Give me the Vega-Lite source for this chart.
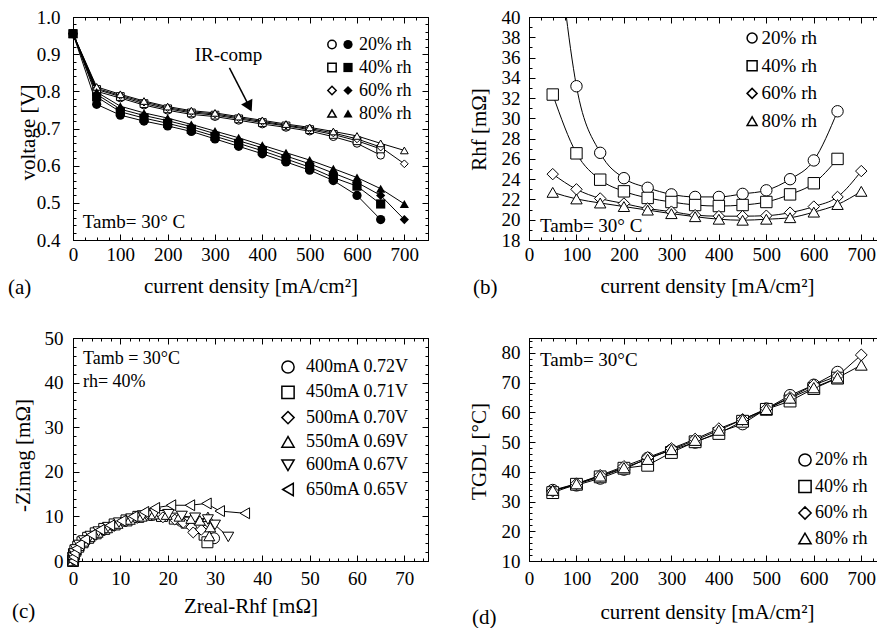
{
"$schema":"https://vega.github.io/schema/vega-lite/v6.json",
"autosize":{"type":"none"},
"padding":{"left":73,"top":17,"right":804,"bottom":611},
"background":"white",
"datasets":{
"a":[
{"c":0,"v":0.955,"rh":"20% rh","k":"IR"},{"c":50,"v":0.800,"rh":"20% rh","k":"IR"},{"c":100,"v":0.782,"rh":"20% rh","k":"IR"},{"c":150,"v":0.763,"rh":"20% rh","k":"IR"},{"c":200,"v":0.749,"rh":"20% rh","k":"IR"},{"c":250,"v":0.738,"rh":"20% rh","k":"IR"},{"c":300,"v":0.732,"rh":"20% rh","k":"IR"},{"c":350,"v":0.722,"rh":"20% rh","k":"IR"},{"c":400,"v":0.712,"rh":"20% rh","k":"IR"},{"c":450,"v":0.703,"rh":"20% rh","k":"IR"},{"c":500,"v":0.693,"rh":"20% rh","k":"IR"},{"c":550,"v":0.678,"rh":"20% rh","k":"IR"},{"c":600,"v":0.660,"rh":"20% rh","k":"IR"},{"c":650,"v":0.628,"rh":"20% rh","k":"IR"},
{"c":0,"v":0.955,"rh":"40% rh","k":"IR"},{"c":50,"v":0.805,"rh":"40% rh","k":"IR"},{"c":100,"v":0.786,"rh":"40% rh","k":"IR"},{"c":150,"v":0.767,"rh":"40% rh","k":"IR"},{"c":200,"v":0.753,"rh":"40% rh","k":"IR"},{"c":250,"v":0.742,"rh":"40% rh","k":"IR"},{"c":300,"v":0.736,"rh":"40% rh","k":"IR"},{"c":350,"v":0.726,"rh":"40% rh","k":"IR"},{"c":400,"v":0.716,"rh":"40% rh","k":"IR"},{"c":450,"v":0.707,"rh":"40% rh","k":"IR"},{"c":500,"v":0.697,"rh":"40% rh","k":"IR"},{"c":550,"v":0.684,"rh":"40% rh","k":"IR"},{"c":600,"v":0.667,"rh":"40% rh","k":"IR"},{"c":650,"v":0.645,"rh":"40% rh","k":"IR"},
{"c":0,"v":0.955,"rh":"60% rh","k":"IR"},{"c":50,"v":0.808,"rh":"60% rh","k":"IR"},{"c":100,"v":0.789,"rh":"60% rh","k":"IR"},{"c":150,"v":0.771,"rh":"60% rh","k":"IR"},{"c":200,"v":0.756,"rh":"60% rh","k":"IR"},{"c":250,"v":0.745,"rh":"60% rh","k":"IR"},{"c":300,"v":0.739,"rh":"60% rh","k":"IR"},{"c":350,"v":0.729,"rh":"60% rh","k":"IR"},{"c":400,"v":0.719,"rh":"60% rh","k":"IR"},{"c":450,"v":0.709,"rh":"60% rh","k":"IR"},{"c":500,"v":0.700,"rh":"60% rh","k":"IR"},{"c":550,"v":0.688,"rh":"60% rh","k":"IR"},{"c":600,"v":0.672,"rh":"60% rh","k":"IR"},{"c":650,"v":0.650,"rh":"60% rh","k":"IR"},{"c":700,"v":0.605,"rh":"60% rh","k":"IR"},
{"c":0,"v":0.955,"rh":"80% rh","k":"IR"},{"c":50,"v":0.812,"rh":"80% rh","k":"IR"},{"c":100,"v":0.792,"rh":"80% rh","k":"IR"},{"c":150,"v":0.774,"rh":"80% rh","k":"IR"},{"c":200,"v":0.759,"rh":"80% rh","k":"IR"},{"c":250,"v":0.748,"rh":"80% rh","k":"IR"},{"c":300,"v":0.742,"rh":"80% rh","k":"IR"},{"c":350,"v":0.732,"rh":"80% rh","k":"IR"},{"c":400,"v":0.722,"rh":"80% rh","k":"IR"},{"c":450,"v":0.712,"rh":"80% rh","k":"IR"},{"c":500,"v":0.703,"rh":"80% rh","k":"IR"},{"c":550,"v":0.692,"rh":"80% rh","k":"IR"},{"c":600,"v":0.680,"rh":"80% rh","k":"IR"},{"c":650,"v":0.660,"rh":"80% rh","k":"IR"},{"c":700,"v":0.641,"rh":"80% rh","k":"IR"},
{"c":0,"v":0.955,"rh":"20% rh","k":"raw"},{"c":50,"v":0.765,"rh":"20% rh","k":"raw"},{"c":100,"v":0.736,"rh":"20% rh","k":"raw"},{"c":150,"v":0.720,"rh":"20% rh","k":"raw"},{"c":200,"v":0.707,"rh":"20% rh","k":"raw"},{"c":250,"v":0.692,"rh":"20% rh","k":"raw"},{"c":300,"v":0.672,"rh":"20% rh","k":"raw"},{"c":350,"v":0.652,"rh":"20% rh","k":"raw"},{"c":400,"v":0.632,"rh":"20% rh","k":"raw"},{"c":450,"v":0.610,"rh":"20% rh","k":"raw"},{"c":500,"v":0.588,"rh":"20% rh","k":"raw"},{"c":550,"v":0.560,"rh":"20% rh","k":"raw"},{"c":600,"v":0.520,"rh":"20% rh","k":"raw"},{"c":650,"v":0.455,"rh":"20% rh","k":"raw"},
{"c":0,"v":0.955,"rh":"40% rh","k":"raw"},{"c":50,"v":0.785,"rh":"40% rh","k":"raw"},{"c":100,"v":0.745,"rh":"40% rh","k":"raw"},{"c":150,"v":0.728,"rh":"40% rh","k":"raw"},{"c":200,"v":0.714,"rh":"40% rh","k":"raw"},{"c":250,"v":0.698,"rh":"40% rh","k":"raw"},{"c":300,"v":0.679,"rh":"40% rh","k":"raw"},{"c":350,"v":0.660,"rh":"40% rh","k":"raw"},{"c":400,"v":0.640,"rh":"40% rh","k":"raw"},{"c":450,"v":0.618,"rh":"40% rh","k":"raw"},{"c":500,"v":0.596,"rh":"40% rh","k":"raw"},{"c":550,"v":0.568,"rh":"40% rh","k":"raw"},{"c":600,"v":0.545,"rh":"40% rh","k":"raw"},{"c":650,"v":0.497,"rh":"40% rh","k":"raw"},
{"c":0,"v":0.955,"rh":"60% rh","k":"raw"},{"c":50,"v":0.792,"rh":"60% rh","k":"raw"},{"c":100,"v":0.752,"rh":"60% rh","k":"raw"},{"c":150,"v":0.735,"rh":"60% rh","k":"raw"},{"c":200,"v":0.721,"rh":"60% rh","k":"raw"},{"c":250,"v":0.705,"rh":"60% rh","k":"raw"},{"c":300,"v":0.686,"rh":"60% rh","k":"raw"},{"c":350,"v":0.667,"rh":"60% rh","k":"raw"},{"c":400,"v":0.648,"rh":"60% rh","k":"raw"},{"c":450,"v":0.626,"rh":"60% rh","k":"raw"},{"c":500,"v":0.605,"rh":"60% rh","k":"raw"},{"c":550,"v":0.580,"rh":"60% rh","k":"raw"},{"c":600,"v":0.555,"rh":"60% rh","k":"raw"},{"c":650,"v":0.520,"rh":"60% rh","k":"raw"},{"c":700,"v":0.455,"rh":"60% rh","k":"raw"},
{"c":0,"v":0.955,"rh":"80% rh","k":"raw"},{"c":50,"v":0.798,"rh":"80% rh","k":"raw"},{"c":100,"v":0.760,"rh":"80% rh","k":"raw"},{"c":150,"v":0.742,"rh":"80% rh","k":"raw"},{"c":200,"v":0.728,"rh":"80% rh","k":"raw"},{"c":250,"v":0.711,"rh":"80% rh","k":"raw"},{"c":300,"v":0.693,"rh":"80% rh","k":"raw"},{"c":350,"v":0.675,"rh":"80% rh","k":"raw"},{"c":400,"v":0.655,"rh":"80% rh","k":"raw"},{"c":450,"v":0.635,"rh":"80% rh","k":"raw"},{"c":500,"v":0.615,"rh":"80% rh","k":"raw"},{"c":550,"v":0.592,"rh":"80% rh","k":"raw"},{"c":600,"v":0.568,"rh":"80% rh","k":"raw"},{"c":650,"v":0.538,"rh":"80% rh","k":"raw"},{"c":700,"v":0.497,"rh":"80% rh","k":"raw"}
],
"b":[
{"c":50,"r":52,"rh":"20% rh"},{"c":100,"r":33.17,"rh":"20% rh"},{"c":150,"r":26.6,"rh":"20% rh"},{"c":200,"r":24.1,"rh":"20% rh"},{"c":250,"r":23.15,"rh":"20% rh"},{"c":300,"r":22.5,"rh":"20% rh"},{"c":350,"r":22.25,"rh":"20% rh"},{"c":400,"r":22.25,"rh":"20% rh"},{"c":450,"r":22.55,"rh":"20% rh"},{"c":500,"r":22.9,"rh":"20% rh"},{"c":550,"r":24.0,"rh":"20% rh"},{"c":600,"r":25.85,"rh":"20% rh"},{"c":650,"r":30.7,"rh":"20% rh"},
{"c":50,"r":32.35,"rh":"40% rh"},{"c":100,"r":26.55,"rh":"40% rh"},{"c":150,"r":23.95,"rh":"40% rh"},{"c":200,"r":22.8,"rh":"40% rh"},{"c":250,"r":22.15,"rh":"40% rh"},{"c":300,"r":21.75,"rh":"40% rh"},{"c":350,"r":21.45,"rh":"40% rh"},{"c":400,"r":21.35,"rh":"40% rh"},{"c":450,"r":21.45,"rh":"40% rh"},{"c":500,"r":21.75,"rh":"40% rh"},{"c":550,"r":22.5,"rh":"40% rh"},{"c":600,"r":23.6,"rh":"40% rh"},{"c":650,"r":26.0,"rh":"40% rh"},
{"c":50,"r":24.5,"rh":"60% rh"},{"c":100,"r":23.0,"rh":"60% rh"},{"c":150,"r":22.1,"rh":"60% rh"},{"c":200,"r":21.6,"rh":"60% rh"},{"c":250,"r":21.1,"rh":"60% rh"},{"c":300,"r":20.8,"rh":"60% rh"},{"c":350,"r":20.45,"rh":"60% rh"},{"c":400,"r":20.35,"rh":"60% rh"},{"c":450,"r":20.35,"rh":"60% rh"},{"c":500,"r":20.4,"rh":"60% rh"},{"c":550,"r":20.7,"rh":"60% rh"},{"c":600,"r":21.3,"rh":"60% rh"},{"c":650,"r":22.25,"rh":"60% rh"},{"c":700,"r":24.8,"rh":"60% rh"},
{"c":50,"r":22.7,"rh":"80% rh"},{"c":100,"r":22.05,"rh":"80% rh"},{"c":150,"r":21.65,"rh":"80% rh"},{"c":200,"r":21.3,"rh":"80% rh"},{"c":250,"r":20.95,"rh":"80% rh"},{"c":300,"r":20.6,"rh":"80% rh"},{"c":350,"r":20.3,"rh":"80% rh"},{"c":400,"r":20.05,"rh":"80% rh"},{"c":450,"r":19.95,"rh":"80% rh"},{"c":500,"r":20.05,"rh":"80% rh"},{"c":550,"r":20.2,"rh":"80% rh"},{"c":600,"r":20.75,"rh":"80% rh"},{"c":650,"r":21.5,"rh":"80% rh"},{"c":700,"r":22.8,"rh":"80% rh"}
],
"c":[
{"i":0,"zr":0,"zi":0,"s":"400mA 0.72V"},{"i":1,"zr":0.05,"zi":0.6,"s":"400mA 0.72V"},{"i":2,"zr":0.2,"zi":1.3,"s":"400mA 0.72V"},{"i":3,"zr":0.5,"zi":2.1,"s":"400mA 0.72V"},{"i":4,"zr":1.0,"zi":3.0,"s":"400mA 0.72V"},{"i":5,"zr":1.9,"zi":4.0,"s":"400mA 0.72V"},{"i":6,"zr":3.0,"zi":5.0,"s":"400mA 0.72V"},{"i":7,"zr":4.6,"zi":6.0,"s":"400mA 0.72V"},{"i":8,"zr":6.4,"zi":7.0,"s":"400mA 0.72V"},{"i":9,"zr":8.5,"zi":8.0,"s":"400mA 0.72V"},{"i":10,"zr":11,"zi":9.0,"s":"400mA 0.72V"},{"i":11,"zr":13.5,"zi":9.8,"s":"400mA 0.72V"},{"i":12,"zr":16.5,"zi":10.3,"s":"400mA 0.72V"},{"i":13,"zr":19.3,"zi":10.3,"s":"400mA 0.72V"},{"i":14,"zr":22.8,"zi":9.0,"s":"400mA 0.72V"},{"i":15,"zr":25.5,"zi":7.8,"s":"400mA 0.72V"},{"i":16,"zr":27.6,"zi":6.8,"s":"400mA 0.72V"},{"i":17,"zr":29.8,"zi":5.1,"s":"400mA 0.72V"},
{"i":0,"zr":0,"zi":0,"s":"450mA 0.71V"},{"i":1,"zr":0.05,"zi":0.7,"s":"450mA 0.71V"},{"i":2,"zr":0.2,"zi":1.5,"s":"450mA 0.71V"},{"i":3,"zr":0.5,"zi":2.3,"s":"450mA 0.71V"},{"i":4,"zr":1.1,"zi":3.2,"s":"450mA 0.71V"},{"i":5,"zr":2.0,"zi":4.2,"s":"450mA 0.71V"},{"i":6,"zr":3.2,"zi":5.2,"s":"450mA 0.71V"},{"i":7,"zr":4.8,"zi":6.2,"s":"450mA 0.71V"},{"i":8,"zr":6.6,"zi":7.2,"s":"450mA 0.71V"},{"i":9,"zr":8.8,"zi":8.2,"s":"450mA 0.71V"},{"i":10,"zr":11.3,"zi":9.1,"s":"450mA 0.71V"},{"i":11,"zr":13.8,"zi":9.9,"s":"450mA 0.71V"},{"i":12,"zr":16.2,"zi":10.4,"s":"450mA 0.71V"},{"i":13,"zr":18.8,"zi":10.1,"s":"450mA 0.71V"},{"i":14,"zr":21.5,"zi":9.5,"s":"450mA 0.71V"},{"i":15,"zr":24,"zi":8.6,"s":"450mA 0.71V"},{"i":16,"zr":26.2,"zi":7.4,"s":"450mA 0.71V"},{"i":17,"zr":27.8,"zi":5.9,"s":"450mA 0.71V"},{"i":18,"zr":28.4,"zi":4.2,"s":"450mA 0.71V"},
{"i":0,"zr":0,"zi":0,"s":"500mA 0.70V"},{"i":1,"zr":0.05,"zi":0.5,"s":"500mA 0.70V"},{"i":2,"zr":0.2,"zi":1.2,"s":"500mA 0.70V"},{"i":3,"zr":0.5,"zi":2.0,"s":"500mA 0.70V"},{"i":4,"zr":1.0,"zi":2.9,"s":"500mA 0.70V"},{"i":5,"zr":1.9,"zi":3.9,"s":"500mA 0.70V"},{"i":6,"zr":3.1,"zi":4.9,"s":"500mA 0.70V"},{"i":7,"zr":4.7,"zi":5.9,"s":"500mA 0.70V"},{"i":8,"zr":6.5,"zi":6.9,"s":"500mA 0.70V"},{"i":9,"zr":8.7,"zi":7.9,"s":"500mA 0.70V"},{"i":10,"zr":11.2,"zi":8.9,"s":"500mA 0.70V"},{"i":11,"zr":13.7,"zi":9.7,"s":"500mA 0.70V"},{"i":12,"zr":16.3,"zi":10.2,"s":"500mA 0.70V"},{"i":13,"zr":19,"zi":9.8,"s":"500mA 0.70V"},{"i":14,"zr":21.5,"zi":9.3,"s":"500mA 0.70V"},{"i":15,"zr":23.3,"zi":8.6,"s":"500mA 0.70V"},{"i":16,"zr":25,"zi":7.6,"s":"500mA 0.70V"},{"i":17,"zr":25.4,"zi":6.4,"s":"500mA 0.70V"},{"i":18,"zr":27.1,"zi":7.0,"s":"500mA 0.70V"},
{"i":0,"zr":0,"zi":0,"s":"550mA 0.69V"},{"i":1,"zr":0.05,"zi":0.8,"s":"550mA 0.69V"},{"i":2,"zr":0.25,"zi":1.6,"s":"550mA 0.69V"},{"i":3,"zr":0.6,"zi":2.5,"s":"550mA 0.69V"},{"i":4,"zr":1.2,"zi":3.4,"s":"550mA 0.69V"},{"i":5,"zr":2.2,"zi":4.4,"s":"550mA 0.69V"},{"i":6,"zr":3.5,"zi":5.4,"s":"550mA 0.69V"},{"i":7,"zr":5.2,"zi":6.4,"s":"550mA 0.69V"},{"i":8,"zr":7.2,"zi":7.4,"s":"550mA 0.69V"},{"i":9,"zr":9.4,"zi":8.4,"s":"550mA 0.69V"},{"i":10,"zr":12,"zi":9.3,"s":"550mA 0.69V"},{"i":11,"zr":14.5,"zi":10.0,"s":"550mA 0.69V"},{"i":12,"zr":17,"zi":10.5,"s":"550mA 0.69V"},{"i":13,"zr":19.8,"zi":10.4,"s":"550mA 0.69V"},{"i":14,"zr":22.5,"zi":10.0,"s":"550mA 0.69V"},{"i":15,"zr":25,"zi":9.5,"s":"550mA 0.69V"},{"i":16,"zr":26.8,"zi":9.1,"s":"550mA 0.69V"},{"i":17,"zr":28.5,"zi":9.9,"s":"550mA 0.69V"},{"i":18,"zr":29,"zi":7.6,"s":"550mA 0.69V"},{"i":19,"zr":28.8,"zi":5.6,"s":"550mA 0.69V"},
{"i":0,"zr":0,"zi":0,"s":"600mA 0.67V"},{"i":1,"zr":0.05,"zi":0.8,"s":"600mA 0.67V"},{"i":2,"zr":0.25,"zi":1.7,"s":"600mA 0.67V"},{"i":3,"zr":0.6,"zi":2.6,"s":"600mA 0.67V"},{"i":4,"zr":1.3,"zi":3.6,"s":"600mA 0.67V"},{"i":5,"zr":2.3,"zi":4.6,"s":"600mA 0.67V"},{"i":6,"zr":3.7,"zi":5.6,"s":"600mA 0.67V"},{"i":7,"zr":5.4,"zi":6.6,"s":"600mA 0.67V"},{"i":8,"zr":7.4,"zi":7.6,"s":"600mA 0.67V"},{"i":9,"zr":9.7,"zi":8.6,"s":"600mA 0.67V"},{"i":10,"zr":12.3,"zi":9.5,"s":"600mA 0.67V"},{"i":11,"zr":14.8,"zi":10.2,"s":"600mA 0.67V"},{"i":12,"zr":17.3,"zi":10.7,"s":"600mA 0.67V"},{"i":13,"zr":20.2,"zi":10.5,"s":"600mA 0.67V"},{"i":14,"zr":23,"zi":10.1,"s":"600mA 0.67V"},{"i":15,"zr":25.8,"zi":9.7,"s":"600mA 0.67V"},{"i":16,"zr":28.5,"zi":9.3,"s":"600mA 0.67V"},{"i":17,"zr":30,"zi":8.1,"s":"600mA 0.67V"},{"i":18,"zr":32.8,"zi":5.4,"s":"600mA 0.67V"},
{"i":0,"zr":0,"zi":0,"s":"650mA 0.65V"},{"i":1,"zr":0.05,"zi":0.9,"s":"650mA 0.65V"},{"i":2,"zr":0.3,"zi":1.8,"s":"650mA 0.65V"},{"i":3,"zr":0.7,"zi":2.8,"s":"650mA 0.65V"},{"i":4,"zr":1.4,"zi":3.8,"s":"650mA 0.65V"},{"i":5,"zr":2.5,"zi":4.9,"s":"650mA 0.65V"},{"i":6,"zr":3.9,"zi":5.9,"s":"650mA 0.65V"},{"i":7,"zr":5.7,"zi":7.0,"s":"650mA 0.65V"},{"i":8,"zr":7.8,"zi":8.0,"s":"650mA 0.65V"},{"i":9,"zr":10.2,"zi":9.0,"s":"650mA 0.65V"},{"i":10,"zr":12.7,"zi":10.0,"s":"650mA 0.65V"},{"i":11,"zr":15.0,"zi":11.0,"s":"650mA 0.65V"},{"i":12,"zr":17.3,"zi":11.9,"s":"650mA 0.65V"},{"i":13,"zr":20.7,"zi":12.5,"s":"650mA 0.65V"},{"i":14,"zr":24.7,"zi":12.5,"s":"650mA 0.65V"},{"i":15,"zr":28.2,"zi":12.9,"s":"650mA 0.65V"},{"i":16,"zr":31,"zi":11.2,"s":"650mA 0.65V"},{"i":17,"zr":36.3,"zi":10.7,"s":"650mA 0.65V"}
],
"d":[
{"c":50,"t":33.8,"rh":"20% rh"},{"c":100,"t":35.5,"rh":"20% rh"},{"c":150,"t":37.8,"rh":"20% rh"},{"c":200,"t":40.8,"rh":"20% rh"},{"c":250,"t":44.6,"rh":"20% rh"},{"c":300,"t":47.3,"rh":"20% rh"},{"c":350,"t":49.9,"rh":"20% rh"},{"c":400,"t":53.3,"rh":"20% rh"},{"c":450,"t":56.1,"rh":"20% rh"},{"c":500,"t":61.2,"rh":"20% rh"},{"c":550,"t":65.7,"rh":"20% rh"},{"c":600,"t":69.2,"rh":"20% rh"},{"c":650,"t":73.5,"rh":"20% rh"},
{"c":50,"t":33.0,"rh":"40% rh"},{"c":100,"t":35.8,"rh":"40% rh"},{"c":150,"t":38.3,"rh":"40% rh"},{"c":200,"t":41.2,"rh":"40% rh"},{"c":250,"t":42.2,"rh":"40% rh"},{"c":300,"t":46.5,"rh":"40% rh"},{"c":350,"t":50.1,"rh":"40% rh"},{"c":400,"t":52.9,"rh":"40% rh"},{"c":450,"t":57.0,"rh":"40% rh"},{"c":500,"t":61.0,"rh":"40% rh"},{"c":550,"t":63.8,"rh":"40% rh"},{"c":600,"t":68.0,"rh":"40% rh"},{"c":650,"t":71.5,"rh":"40% rh"},
{"c":50,"t":33.5,"rh":"60% rh"},{"c":100,"t":36.0,"rh":"60% rh"},{"c":150,"t":38.8,"rh":"60% rh"},{"c":200,"t":41.8,"rh":"60% rh"},{"c":250,"t":44.8,"rh":"60% rh"},{"c":300,"t":47.8,"rh":"60% rh"},{"c":350,"t":51.0,"rh":"60% rh"},{"c":400,"t":54.5,"rh":"60% rh"},{"c":450,"t":57.6,"rh":"60% rh"},{"c":500,"t":61.2,"rh":"60% rh"},{"c":550,"t":65.0,"rh":"60% rh"},{"c":600,"t":69.2,"rh":"60% rh"},{"c":650,"t":72.2,"rh":"60% rh"},{"c":700,"t":79.3,"rh":"60% rh"},
{"c":50,"t":33.8,"rh":"80% rh"},{"c":100,"t":36.0,"rh":"80% rh"},{"c":150,"t":38.6,"rh":"80% rh"},{"c":200,"t":41.4,"rh":"80% rh"},{"c":250,"t":44.2,"rh":"80% rh"},{"c":300,"t":47.5,"rh":"80% rh"},{"c":350,"t":50.6,"rh":"80% rh"},{"c":400,"t":54.0,"rh":"80% rh"},{"c":450,"t":57.6,"rh":"80% rh"},{"c":500,"t":61.0,"rh":"80% rh"},{"c":550,"t":64.8,"rh":"80% rh"},{"c":600,"t":68.3,"rh":"80% rh"},{"c":650,"t":71.6,"rh":"80% rh"},{"c":700,"t":75.9,"rh":"80% rh"}
]
},
"columns":2,
"spacing":{"row":98,"column":101},
"bounds":"flush",
"resolve":{"scale":{"shape":"independent"}},
"concat":[
{"width":355,"height":223,
 "data":{"name":"a"},
 "title":{"text":"(a)","orient":"bottom","anchor":"start","frame":"group","dx":-65,"offset":-2,"fontSize":21,"fontWeight":"normal","font":"Liberation Serif","color":"black","baseline":"alphabetic"},
 "layer":[
  {"mark":{"type":"line","color":"black","strokeWidth":1},
   "encoding":{
    "x":{"field":"c","type":"quantitative","scale":{"domain":[0,750],"nice":false,"zero":false},
      "axis":{"orient":"bottom","values":[0,25,50,75,100,125,150,175,200,225,250,275,300,325,350,375,400,425,450,475,500,525,550,575,600,625,650,675,700,725,750],"labelExpr":"datum.value % 100 === 0 ? datum.label : ''","tickSize":{"condition":{"test":"datum.value % 100 === 0","value":-6},"value":-3},"labelPadding":11.5,"title":"current density [mA/cm²]","titleY":52,"titleBaseline":"alphabetic"}},
    "y":{"field":"v","type":"quantitative","scale":{"domain":[0.4,1.0],"nice":false,"zero":false},
      "axis":{"orient":"left","values":[0.4,0.42,0.44,0.46,0.48,0.5,0.52,0.54,0.56,0.58,0.6,0.62,0.64,0.66,0.68,0.7,0.72,0.74,0.76,0.78,0.8,0.82,0.84,0.86,0.88,0.9,0.92,0.94,0.96,0.98,1.0],"labelExpr":"abs(datum.value*10 - round(datum.value*10)) < 0.001 ? format(datum.value, '.1f') : ''","tickSize":{"condition":{"test":"abs(datum.value*10 - round(datum.value*10)) < 0.001","value":-6},"value":-3},"labelPadding":19,"title":"voltage [V]","titleX":-39,"titleY":115,"titleBaseline":"alphabetic"}},
    "detail":[{"field":"rh"},{"field":"k"}]}},
  {"transform":[{"filter":"datum.k === 'IR'"}],
   "mark":{"type":"point","filled":true,"fill":"white","stroke":"black","strokeWidth":1,"size":60,"opacity":1},
   "encoding":{
    "x":{"field":"c","type":"quantitative","axis":{"orient":"top","values":[0,25,50,75,100,125,150,175,200,225,250,275,300,325,350,375,400,425,450,475,500,525,550,575,600,625,650,675,700,725,750],"labels":false,"title":null,"tickSize":{"condition":{"test":"datum.value % 100 === 0","value":-6},"value":-3}}},
    "y":{"field":"v","type":"quantitative","axis":{"orient":"right","values":[0.4,0.42,0.44,0.46,0.48,0.5,0.52,0.54,0.56,0.58,0.6,0.62,0.64,0.66,0.68,0.7,0.72,0.74,0.76,0.78,0.8,0.82,0.84,0.86,0.88,0.9,0.92,0.94,0.96,0.98,1.0],"labels":false,"title":null,"tickSize":{"condition":{"test":"abs(datum.value*10 - round(datum.value*10)) < 0.001","value":-6},"value":-3}}},
    "shape":{"field":"rh","type":"nominal","scale":{"range":["circle","square","diamond","triangle-up"]},
      "legend":{"orient":"none","legendX":250,"legendY":18.5,"title":null,"symbolSize":70,"labelExpr":"' '","rowPadding":5,"labelFontSize":18,
        "encode":{"symbols":{"update":{"fill":{"value":"white"},"stroke":{"value":"black"},"strokeWidth":{"value":1},"opacity":{"value":1}}}}}}}},
  {"transform":[{"filter":"datum.k === 'raw'"}],
   "mark":{"type":"point","filled":true,"color":"black","size":85,"opacity":1},
   "encoding":{
    "x":{"field":"c","type":"quantitative","axis":null},
    "y":{"field":"v","type":"quantitative","axis":null},
    "shape":{"field":"rh","type":"nominal","scale":{"range":["circle","square","diamond","triangle-up"]},
      "legend":{"orient":"none","legendX":266,"legendY":18.5,"title":null,"symbolSize":85,"labelOffset":2,"rowPadding":5,"labelFontSize":18,
        "encode":{"symbols":{"update":{"fill":{"value":"black"},"stroke":{"value":"black"},"opacity":{"value":1}}}}}}}},
  {"data":{"values":[{"c":257,"v":0.881,"label":"IR-comp"},{"c":20.5,"v":0.432,"label":"Tamb= 30° C"}]},
   "mark":{"type":"text","align":"left","baseline":"alphabetic","fontSize":19,"font":"Liberation Serif","color":"black"},
   "encoding":{"x":{"field":"c","type":"quantitative","axis":null},"y":{"field":"v","type":"quantitative","axis":null},"text":{"field":"label"}}},
  {"data":{"values":[{"c":330.5,"v":0.863,"c2":370.4,"v2":0.764}]},
   "mark":{"type":"rule","color":"black","strokeWidth":1.5},
   "encoding":{"x":{"field":"c","type":"quantitative","axis":null},"y":{"field":"v","type":"quantitative","axis":null},"x2":{"field":"c2"},"y2":{"field":"v2"}}},
  {"data":{"values":[{"c":372.3,"v":0.759}]},
   "mark":{"type":"point","shape":"triangle-down","angle":333,"size":160,"filled":true,"color":"black","opacity":1},
   "encoding":{"x":{"field":"c","type":"quantitative","axis":null},"y":{"field":"v","type":"quantitative","axis":null}}}
 ],
 "resolve":{"axis":{"x":"independent","y":"independent"},"scale":{"shape":"independent"}}
},
{"width":356,"height":223,
 "data":{"name":"b"},
 "title":{"text":"(b)","orient":"bottom","anchor":"start","frame":"group","dx":-56,"offset":-2,"fontSize":21,"fontWeight":"normal","font":"Liberation Serif","color":"black","baseline":"alphabetic"},
 "layer":[
  {"mark":{"type":"line","color":"black","strokeWidth":1,"interpolate":"monotone","clip":true},
   "encoding":{
    "x":{"field":"c","type":"quantitative","scale":{"domain":[0,750],"nice":false,"zero":false},
      "axis":{"orient":"bottom","values":[0,25,50,75,100,125,150,175,200,225,250,275,300,325,350,375,400,425,450,475,500,525,550,575,600,625,650,675,700,725,750],"labelExpr":"datum.value % 100 === 0 ? datum.label : ''","tickSize":{"condition":{"test":"datum.value % 100 === 0","value":-6},"value":-3},"labelPadding":11.5,"title":"current density [mA/cm²]","titleY":52,"titleBaseline":"alphabetic"}},
    "y":{"field":"r","type":"quantitative","scale":{"domain":[18,40],"nice":false,"zero":false},
      "axis":{"orient":"left","values":[18,19,20,21,22,23,24,25,26,27,28,29,30,31,32,33,34,35,36,37,38,39,40],"labelExpr":"datum.value % 2 === 0 ? datum.label : ''","tickSize":{"condition":{"test":"datum.value % 2 === 0","value":-6},"value":-3},"labelPadding":15,"title":"Rhf [mΩ]","titleX":-44,"titleY":112,"titleBaseline":"alphabetic"}},
    "detail":{"field":"rh"}}},
  {"mark":{"type":"point","filled":true,"fill":"white","stroke":"black","strokeWidth":1,"size":130,"opacity":1,"clip":true},
   "encoding":{
    "x":{"field":"c","type":"quantitative","axis":{"orient":"top","values":[0,25,50,75,100,125,150,175,200,225,250,275,300,325,350,375,400,425,450,475,500,525,550,575,600,625,650,675,700,725,750],"labels":false,"title":null,"tickSize":{"condition":{"test":"datum.value % 100 === 0","value":-6},"value":-3}}},
    "y":{"field":"r","type":"quantitative","axis":{"orient":"right","values":[18,19,20,21,22,23,24,25,26,27,28,29,30,31,32,33,34,35,36,37,38,39,40],"labels":false,"title":null,"tickSize":{"condition":{"test":"datum.value % 2 === 0","value":-6},"value":-3}}},
    "shape":{"field":"rh","type":"nominal","scale":{"range":["circle","square","diamond","triangle-up"]},
      "legend":{"orient":"none","legendX":213.6,"legendY":11.5,"title":null,"symbolSize":100,"labelOffset":0,"rowPadding":7.7,"labelFontSize":19,
        "encode":{"symbols":{"update":{"fill":{"value":"white"},"stroke":{"value":"black"},"strokeWidth":{"value":1},"opacity":{"value":1}}}}}}}},
  {"data":{"values":[{"c":23,"r":18.8,"label":"Tamb= 30° C"}]},
   "mark":{"type":"text","align":"left","baseline":"alphabetic","fontSize":19,"font":"Liberation Serif","color":"black"},
   "encoding":{"x":{"field":"c","type":"quantitative","axis":null},"y":{"field":"r","type":"quantitative","axis":null},"text":{"field":"label"}}}
 ],
 "resolve":{"axis":{"x":"independent","y":"independent"}}
},
{"width":355,"height":223,
 "data":{"name":"c"},
 "title":{"text":"(c)","orient":"bottom","anchor":"start","frame":"group","dx":-61,"offset":2,"fontSize":21,"fontWeight":"normal","font":"Liberation Serif","color":"black","baseline":"alphabetic"},
 "layer":[
  {"mark":{"type":"line","color":"black","strokeWidth":1},
   "encoding":{
    "x":{"field":"zr","type":"quantitative","scale":{"domain":[0,75],"nice":false,"zero":false},
      "axis":{"orient":"bottom","values":[0,2,4,6,8,10,12,14,16,18,20,22,24,26,28,30,32,34,36,38,40,42,44,46,48,50,52,54,56,58,60,62,64,66,68,70,72,74],"labelExpr":"datum.value % 10 === 0 ? datum.label : ''","tickSize":{"condition":{"test":"datum.value % 10 === 0","value":-6},"value":-3},"labelPadding":14.5,"title":"Zreal-Rhf [mΩ]","titleY":51,"titleBaseline":"alphabetic"}},
    "y":{"field":"zi","type":"quantitative","scale":{"domain":[0,50],"nice":false,"zero":false},
      "axis":{"orient":"left","values":[0,2,4,6,8,10,12,14,16,18,20,22,24,26,28,30,32,34,36,38,40,42,44,46,48,50],"labelExpr":"datum.value % 10 === 0 ? datum.label : ''","tickSize":{"condition":{"test":"datum.value % 10 === 0","value":-6},"value":-3},"labelPadding":16,"title":"-Zimag [mΩ]","titleX":-44,"titleY":117,"titleBaseline":"alphabetic"}},
    "detail":{"field":"s"},
    "order":{"field":"i"}}},
  {"mark":{"type":"point","filled":true,"fill":"white","stroke":"black","strokeWidth":1,"size":120,"opacity":1},
   "encoding":{
    "x":{"field":"zr","type":"quantitative","axis":{"orient":"top","values":[0,2,4,6,8,10,12,14,16,18,20,22,24,26,28,30,32,34,36,38,40,42,44,46,48,50,52,54,56,58,60,62,64,66,68,70,72,74],"labels":false,"title":null,"tickSize":{"condition":{"test":"datum.value % 10 === 0","value":-6},"value":-3}}},
    "y":{"field":"zi","type":"quantitative","axis":{"orient":"right","values":[0,2,4,6,8,10,12,14,16,18,20,22,24,26,28,30,32,34,36,38,40,42,44,46,48,50],"labels":false,"title":null,"tickSize":{"condition":{"test":"datum.value % 10 === 0","value":-6},"value":-3}}},
    "shape":{"field":"s","type":"nominal","scale":{"range":["circle","square","diamond","triangle-up","triangle-down","triangle-left"]},
      "legend":{"orient":"none","legendX":206,"legendY":20,"title":null,"symbolSize":150,"labelOffset":9,"rowPadding":5.3,"labelFontSize":18,
        "encode":{"symbols":{"update":{"fill":{"value":"white"},"stroke":{"value":"black"},"strokeWidth":{"value":1},"opacity":{"value":1}}}}}}}},
  {"data":{"values":[{"zr":2.1,"zi":44.2,"label":"Tamb = 30°C"},{"zr":2.1,"zi":39.0,"label":"rh= 40%"}]},
   "mark":{"type":"text","align":"left","baseline":"alphabetic","fontSize":18,"font":"Liberation Serif","color":"black"},
   "encoding":{"x":{"field":"zr","type":"quantitative","axis":null},"y":{"field":"zi","type":"quantitative","axis":null},"text":{"field":"label"}}}
 ],
 "resolve":{"axis":{"x":"independent","y":"independent"}}
},
{"width":356,"height":223,
 "data":{"name":"d"},
 "title":{"text":"(d)","orient":"bottom","anchor":"start","frame":"group","dx":-57,"offset":2,"fontSize":21,"fontWeight":"normal","font":"Liberation Serif","color":"black","baseline":"alphabetic"},
 "layer":[
  {"mark":{"type":"line","color":"black","strokeWidth":1},
   "encoding":{
    "x":{"field":"c","type":"quantitative","scale":{"domain":[0,750],"nice":false,"zero":false},
      "axis":{"orient":"bottom","values":[0,25,50,75,100,125,150,175,200,225,250,275,300,325,350,375,400,425,450,475,500,525,550,575,600,625,650,675,700,725,750],"labelExpr":"datum.value % 100 === 0 ? datum.label : ''","tickSize":{"condition":{"test":"datum.value % 100 === 0","value":-6},"value":-3},"labelPadding":14.5,"title":"current density [mA/cm²]","titleY":57,"titleBaseline":"alphabetic"}},
    "y":{"field":"t","type":"quantitative","scale":{"domain":[10,85],"nice":false,"zero":false},
      "axis":{"orient":"left","values":[10,12,14,16,18,20,22,24,26,28,30,32,34,36,38,40,42,44,46,48,50,52,54,56,58,60,62,64,66,68,70,72,74,76,78,80,82,84],"labelExpr":"datum.value % 10 === 0 ? datum.label : ''","tickSize":{"condition":{"test":"datum.value % 10 === 0","value":-6},"value":-3},"labelPadding":15,"title":"TGDL [°C]","titleX":-44,"titleY":113,"titleBaseline":"alphabetic"}},
    "detail":{"field":"rh"}}},
  {"mark":{"type":"point","filled":true,"fill":"white","stroke":"black","strokeWidth":1,"size":140,"opacity":1},
   "encoding":{
    "x":{"field":"c","type":"quantitative","axis":{"orient":"top","values":[0,25,50,75,100,125,150,175,200,225,250,275,300,325,350,375,400,425,450,475,500,525,550,575,600,625,650,675,700,725,750],"labels":false,"title":null,"tickSize":{"condition":{"test":"datum.value % 100 === 0","value":-6},"value":-3}}},
    "y":{"field":"t","type":"quantitative","axis":{"orient":"right","values":[10,12,14,16,18,20,22,24,26,28,30,32,34,36,38,40,42,44,46,48,50,52,54,56,58,60,62,64,66,68,70,72,74,76,78,80,82,84],"labels":false,"title":null,"tickSize":{"condition":{"test":"datum.value % 10 === 0","value":-6},"value":-3}}},
    "shape":{"field":"rh","type":"nominal","scale":{"range":["circle","square","diamond","triangle-up"]},
      "legend":{"orient":"none","legendX":267,"legendY":113,"title":null,"symbolSize":150,"labelOffset":1,"rowPadding":6.5,"labelFontSize":18,
        "encode":{"symbols":{"update":{"fill":{"value":"white"},"stroke":{"value":"black"},"strokeWidth":{"value":1},"opacity":{"value":1}}}}}}}},
  {"data":{"values":[{"c":23,"t":75.6,"label":"Tamb= 30°C"}]},
   "mark":{"type":"text","align":"left","baseline":"alphabetic","fontSize":19,"font":"Liberation Serif","color":"black"},
   "encoding":{"x":{"field":"c","type":"quantitative","axis":null},"y":{"field":"t","type":"quantitative","axis":null},"text":{"field":"label"}}}
 ],
 "resolve":{"axis":{"x":"independent","y":"independent"}}
}
],
"config":{
 "view":{"stroke":"black","strokeWidth":1},
 "font":"Liberation Serif",
 "axis":{"labelFont":"Liberation Serif","labelFontSize":19,"labelColor":"black","titleFont":"Liberation Serif","titleFontSize":21,"titleFontWeight":"normal","titleColor":"black","domainColor":"black","tickColor":"black","grid":false,"labelFlush":false,"labelOverlap":false,"labelBound":false,"tickWidth":1,"domainWidth":1},
 "legend":{"labelFont":"Liberation Serif","labelColor":"black","padding":0,"offset":0}
}
}
